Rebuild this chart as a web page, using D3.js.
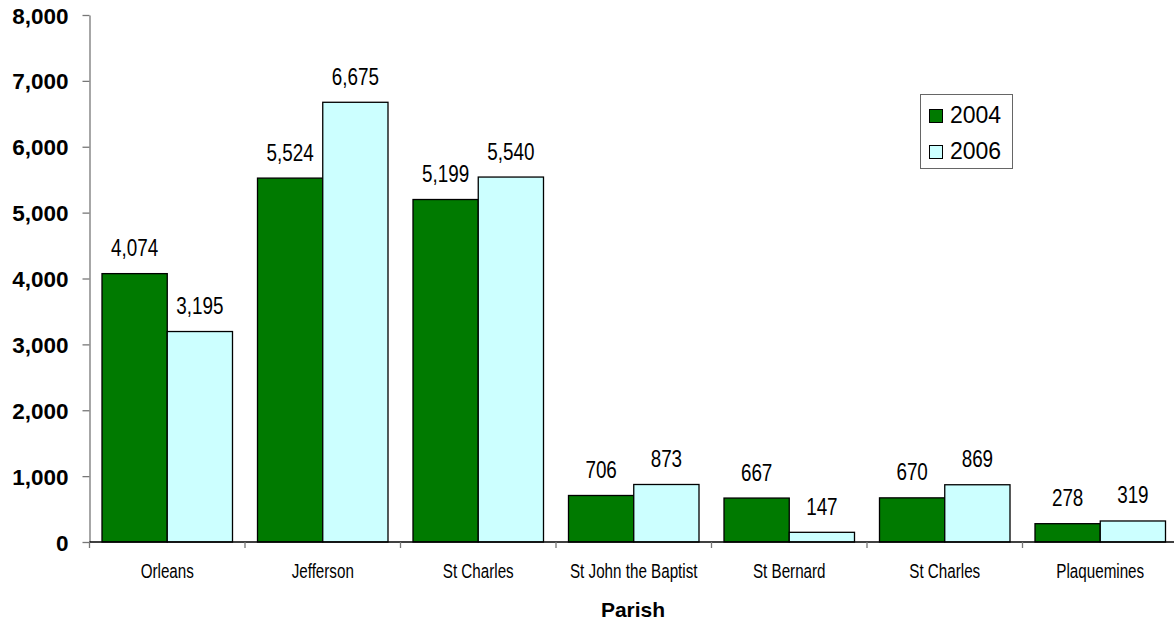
<!DOCTYPE html>
<html><head><meta charset="utf-8">
<script src="https://cdn.jsdelivr.net/npm/d3@7"></script>
<style>
html,body{margin:0;padding:0;background:#fff;}
svg{display:block;}
</style></head>
<body>
<svg id="chart" width="1174" height="626"></svg>
<script>
const categories = ["Orleans","Jefferson","St Charles","St John the Baptist","St Bernard","St Charles","Plaquemines"];
const values2004 = [4074,5524,5199,706,667,670,278];
const values2006 = [3195,6675,5540,873,147,869,319];
const seriesNames = ["2004","2006"];
const yTicks = [0,1000,2000,3000,4000,5000,6000,7000,8000];

const colors = {"2004":"#007A00","2006":"#CCFFFF"};
const sans = "'Liberation Sans',Arial,sans-serif";

const svg = d3.select("#chart");
const plotLeft = 89.5, plotTop = 15, plotBottom = 542, catW = 155.5;
const plotRight = plotLeft + catW*categories.length;

const x = d3.scaleBand().domain(d3.range(categories.length)).range([plotLeft,plotRight]).paddingInner(0).paddingOuter(0);
const y = d3.scaleLinear().domain([0,8000]).range([plotBottom,plotTop]);

const data = categories.map((c,i)=>({i, c, v:[values2004[i], values2006[i]]}));
const inner = 12.5, barW = (catW - 2*inner)/2;

function narrowText(parent, tx, ty, size, squeeze, str){
  return parent.append("text")
    .attr("transform", `translate(${tx},${ty}) scale(${squeeze},1)`)
    .attr("text-anchor","middle")
    .attr("font-family", sans).attr("font-size", size)
    .attr("fill","#000").text(str);
}

const g = svg.append("g");
data.forEach(d=>{
  d.v.forEach((v,k)=>{
    const x0 = x(d.i) + inner + k*barW;
    g.append("rect")
      .attr("x", x0).attr("y", y(v))
      .attr("width", barW).attr("height", y(0)-y(v))
      .attr("fill", colors[seriesNames[k]])
      .attr("stroke","#000").attr("stroke-width",1.3);
    narrowText(g, x0 + barW/2, y(v) - 17.5, 23, 0.82, d3.format(",")(v));
  });
});

// Y axis
const yAxis = d3.axisLeft(y).tickValues(yTicks).tickFormat(d3.format(",")).tickSize(7).tickSizeOuter(0);
const ya = svg.append("g").attr("transform",`translate(${plotLeft},0)`).call(yAxis);
ya.select(".domain").attr("stroke","#777").attr("stroke-width",1.3);
ya.selectAll(".tick line").attr("stroke","#777").attr("stroke-width",1.3);
ya.selectAll(".tick text").attr("font-family",sans).attr("font-weight","bold").attr("font-size",22.5).attr("fill","#000").attr("x",-21).attr("dy","0.36em");

// X axis
const xb = d3.scaleLinear().domain([0,categories.length]).range([plotLeft,plotRight]);
const xa = svg.append("g");
xa.append("line").attr("x1",plotLeft).attr("x2",plotRight).attr("y1",plotBottom).attr("y2",plotBottom).attr("stroke","#000").attr("stroke-width",1.5);
d3.range(categories.length+1).forEach(i=>{
  xa.append("line").attr("x1",xb(i)).attr("x2",xb(i)).attr("y1",plotBottom).attr("y2",plotBottom+6).attr("stroke","#777").attr("stroke-width",1.3);
});
data.forEach(d=>{
  narrowText(xa, x(d.i)+catW/2, 577.5, 19.5, 0.78, d.c);
});
svg.append("text").attr("x",633).attr("y",617).attr("text-anchor","middle")
  .attr("font-family",sans).attr("font-weight","bold").attr("font-size",21).text("Parish");

// Legend
const lg = svg.append("g");
lg.append("rect").attr("x",920.5).attr("y",94.5).attr("width",92).attr("height",74).attr("fill","#fff").attr("stroke","#666").attr("stroke-width",1);
seriesNames.forEach((s,k)=>{
  const yy = 109.5 + k*36;
  lg.append("rect").attr("x",929.5).attr("y",yy).attr("width",13).attr("height",13).attr("fill",colors[s]).attr("stroke","#000").attr("stroke-width",1);
  lg.append("text").attr("x",950).attr("y",yy+13.5).attr("font-family",sans).attr("font-size",23).attr("fill","#000").text(s);
});
</script>
</body></html>
